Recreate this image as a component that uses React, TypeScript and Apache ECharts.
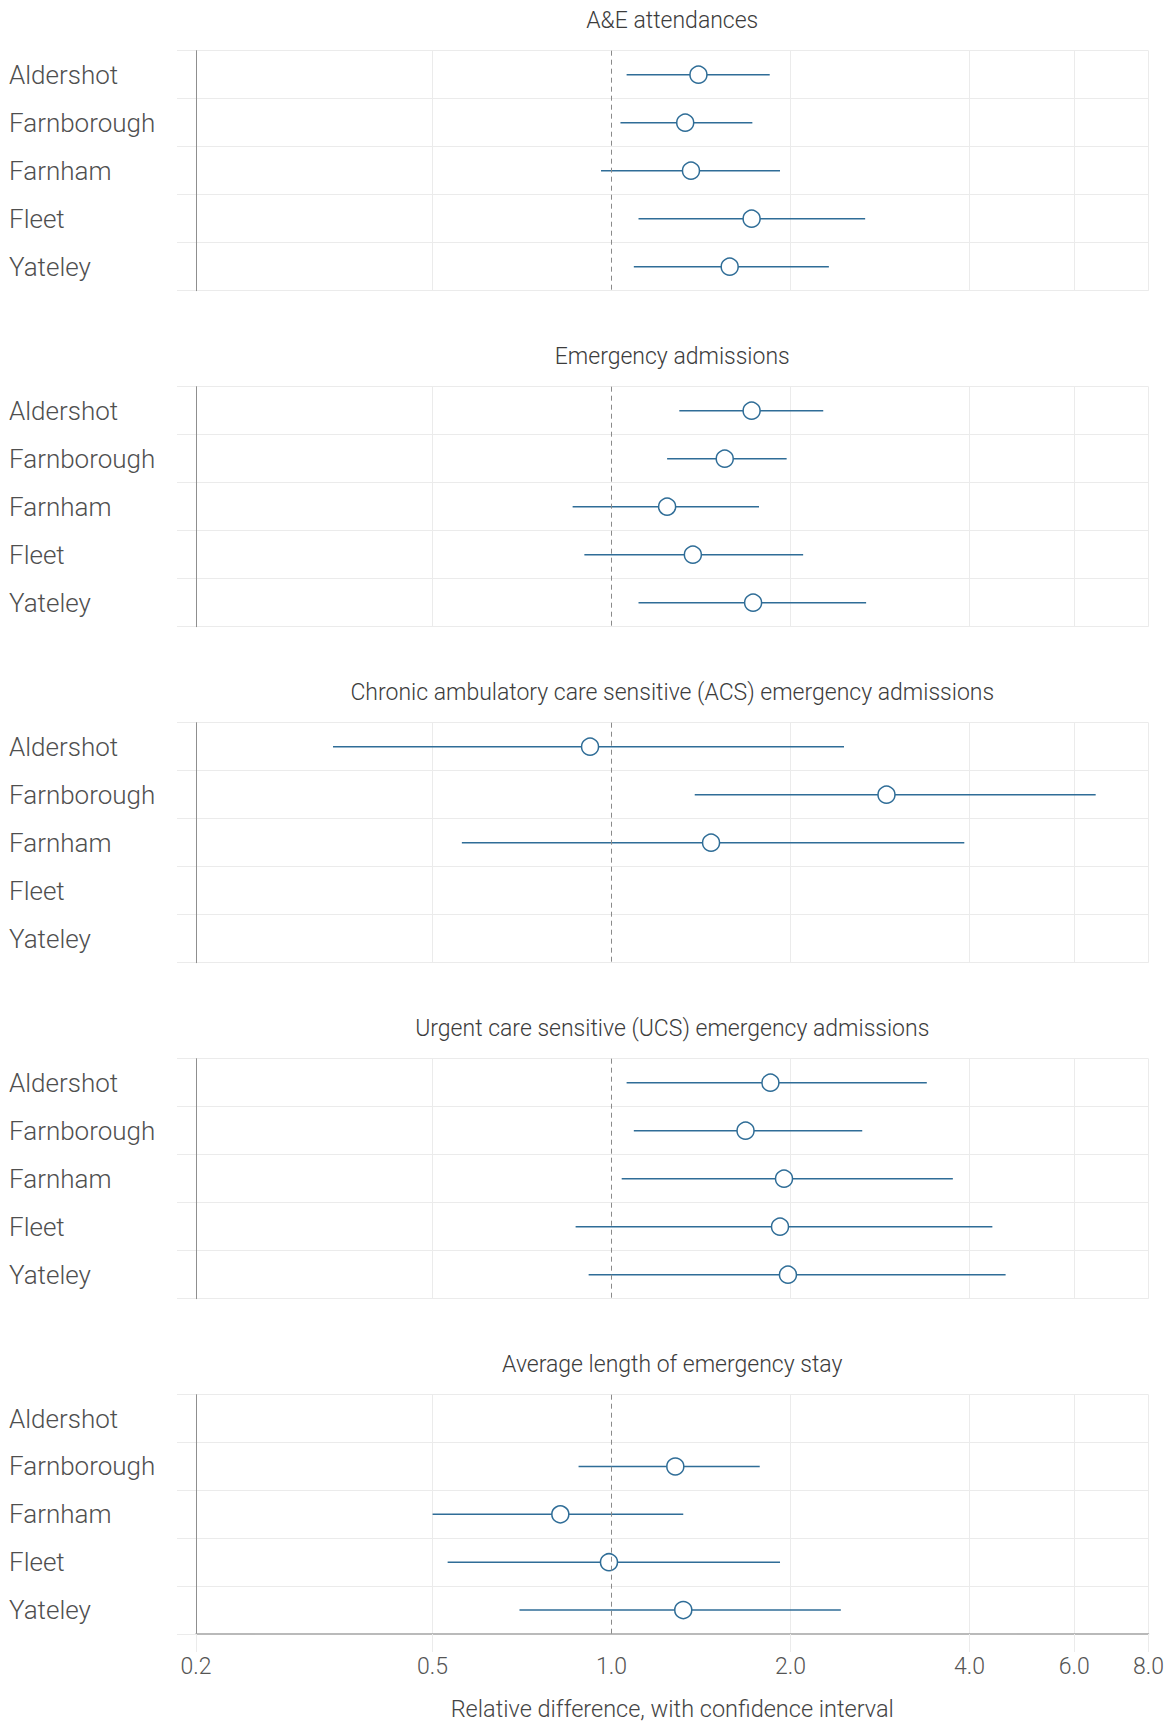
import React, { useEffect, useRef } from "react";
import * as echarts from "echarts";

const LOCATIONS = ["Aldershot", "Farnborough", "Farnham", "Fleet", "Yateley"];
const METRICS = [
  "A&E attendances",
  "Emergency admissions",
  "Chronic ambulatory care sensitive (ACS) emergency admissions",
  "Urgent care sensitive (UCS) emergency admissions",
  "Average length of emergency stay",
];

// Relative difference estimates and confidence bounds, per location (null = no data)
const AE_EST = [1.40, 1.33, 1.36, 1.72, 1.58];
const AE_LO = [1.06, 1.035, 0.96, 1.11, 1.09];
const AE_HI = [1.845, 1.725, 1.92, 2.67, 2.32];

const EM_EST = [1.72, 1.55, 1.24, 1.37, 1.73];
const EM_LO = [1.30, 1.24, 0.86, 0.90, 1.11];
const EM_HI = [2.27, 1.97, 1.77, 2.10, 2.68];

const ACS_EST = [0.92, 2.90, 1.47, null, null];
const ACS_LO = [0.34, 1.38, 0.56, null, null];
const ACS_HI = [2.46, 6.52, 3.92, null, null];

const UCS_EST = [1.85, 1.68, 1.95, 1.92, 1.98];
const UCS_LO = [1.06, 1.09, 1.04, 0.87, 0.915];
const UCS_HI = [3.39, 2.64, 3.75, 4.37, 4.60];

const LOS_EST = [null, 1.28, 0.82, 0.99, 1.32];
const LOS_LO = [null, 0.88, 0.50, 0.53, 0.70];
const LOS_HI = [null, 1.775, 1.32, 1.92, 2.43];

const PANELS = [
  [AE_EST, AE_LO, AE_HI],
  [EM_EST, EM_LO, EM_HI],
  [ACS_EST, ACS_LO, ACS_HI],
  [UCS_EST, UCS_LO, UCS_HI],
  [LOS_EST, LOS_LO, LOS_HI],
];

const X_MIN = 0.2;
const X_MAX = 8;
const REF_VALUE = 1.0;
const TICK_LABELS = [0.2, 0.5, 1.0, 2.0, 4.0, 6.0, 8.0];
const TICK_MARKS = [0.2, 0.5, 2.0, 4.0, 6.0, 8.0];
const AXIS_TITLE = "Relative difference, with confidence interval";

const W = 1175;
const H = 1722;
const GRID_LEFT = 196;
const GRID_RIGHT = 26.5;
const GRID_TOP0 = 50.7;
const PANEL_STEP = 336;
const GRID_H = 240;

const BLUE = "#2f6d97";
const LIGHT = "#ebebeb";
const FONT = "Roboto, 'Open Sans', sans-serif";

export default function App() {
  const ref = useRef<HTMLDivElement>(null);

  useEffect(() => {
    if (!ref.current) return;
    const chart = echarts.init(ref.current, undefined, { renderer: "svg" });
    const l2 = Math.log2;

    const grids: any[] = [];
    const xAxes: any[] = [];
    const yAxes: any[] = [];
    const series: any[] = [];
    const graphics: any[] = [];

    PANELS.forEach(([est, lo, hi], i) => {
      const top = GRID_TOP0 + PANEL_STEP * i;
      const last = i === PANELS.length - 1;
      grids.push({ left: GRID_LEFT, right: GRID_RIGHT, top, height: GRID_H, containLabel: false });
      xAxes.push({
        type: "value",
        gridIndex: i,
        min: l2(X_MIN),
        max: l2(X_MAX),
        axisLine: { show: last, onZero: false, lineStyle: { color: "#a3a3a3", width: 1.5 } },
        axisTick: {
          show: last,
          length: 18,
          customValues: TICK_MARKS.map(l2),
          lineStyle: { color: LIGHT, width: 1 },
        },
        axisLabel: {
          show: last,
          customValues: TICK_LABELS.map(l2),
          formatter: (v: number) => Math.pow(2, v).toFixed(1),
          margin: 21,
          fontSize: 23,
          fontWeight: 300,
          color: "#555",
          fontFamily: FONT,
        },
        splitLine: { show: true, lineStyle: { color: LIGHT, width: 1 } },
        name: last ? AXIS_TITLE : "",
        nameLocation: "middle",
        nameGap: 63,
        nameTextStyle: { fontSize: 23.5, fontWeight: 300, color: "#444", fontFamily: FONT },
      });
      yAxes.push({
        type: "category",
        gridIndex: i,
        data: LOCATIONS,
        inverse: true,
        axisLine: { show: true, onZero: false, lineStyle: { color: "#8f8f8f", width: 1 } },
        axisTick: { show: true, length: 19, lineStyle: { color: LIGHT, width: 1 } },
        splitLine: {
          show: true,
          showMaxLine: !last,
          lineStyle: { color: LIGHT, width: 1 },
        },
        axisLabel: {
          align: "left",
          margin: GRID_LEFT - 9,
          fontSize: 26,
          fontWeight: 300,
          color: "#4f4f4f",
          fontFamily: FONT,
        },
      });

      // reference line at 1.0
      series.push({
        type: "scatter",
        xAxisIndex: i,
        yAxisIndex: i,
        data: [],
        z: 1,
        silent: true,
        markLine: {
          silent: true,
          symbol: "none",
          animation: false,
          label: { show: false },
          lineStyle: { color: "#8a8a8a", type: [5, 4], width: 1 },
          data: [{ xAxis: l2(REF_VALUE) }],
        },
      });

      const ci: any[] = [];
      const pts: any[] = [];
      LOCATIONS.forEach((_, k) => {
        if (est[k] == null) return;
        ci.push([l2(lo[k] as number), l2(hi[k] as number), k]);
        pts.push([l2(est[k] as number), k]);
      });

      series.push({
        type: "custom",
        xAxisIndex: i,
        yAxisIndex: i,
        z: 2,
        silent: true,
        encode: { x: [0, 1], y: 2 },
        data: ci,
        renderItem: (_p: any, api: any) => {
          const a = api.coord([api.value(0), api.value(2)]);
          const b = api.coord([api.value(1), api.value(2)]);
          return {
            type: "line",
            shape: { x1: a[0], y1: a[1], x2: b[0], y2: b[1] },
            style: { stroke: BLUE, lineWidth: 1.5 },
          };
        },
      });

      series.push({
        type: "scatter",
        xAxisIndex: i,
        yAxisIndex: i,
        z: 3,
        silent: true,
        symbol: "circle",
        symbolSize: 17,
        itemStyle: { color: "#ffffff", borderColor: BLUE, borderWidth: 1.5, opacity: 1 },
        data: pts,
      });

      graphics.push({
        type: "text",
        x: GRID_LEFT + (W - GRID_LEFT - GRID_RIGHT) / 2,
        y: 20 + PANEL_STEP * i,
        style: {
          text: METRICS[i],
          align: "center",
          verticalAlign: "middle",
          fontSize: 23,
          fontWeight: 300,
          fill: "#3c3c3c",
          fontFamily: FONT,
        },
      });
    });

    chart.setOption({
      animation: false,
      backgroundColor: "#ffffff",
      grid: grids,
      xAxis: xAxes,
      yAxis: yAxes,
      series,
      graphic: graphics,
    });

    return () => chart.dispose();
  }, []);

  return (
    <div
      ref={ref}
      style={{ position: "absolute", left: 0, top: 0, width: W, height: H }}
    />
  );
}
